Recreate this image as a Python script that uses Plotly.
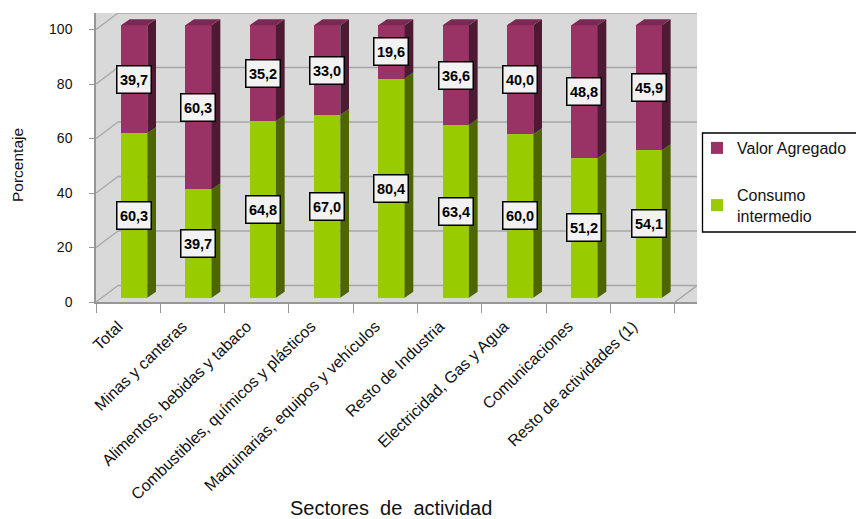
import plotly.graph_objects as go

categories = ["Total", "Minas y canteras", "Alimentos, bebidas y tabaco",
              "Combustibles, químicos y plásticos", "Maquinarias, equipos y vehículos",
              "Resto de Industria", "Electricidad, Gas y Agua", "Comunicaciones",
              "Resto de actividades (1)"]
consumo = [60.3, 39.7, 64.8, 67.0, 80.4, 63.4, 60.0, 51.2, 54.1]
valor = [39.7, 60.3, 35.2, 33.0, 19.6, 36.6, 40.0, 48.8, 45.9]
y_ticks = [0, 20, 40, 60, 80, 100]

W, H = 856, 519
L, R, T, B = 96, 159, 13, 217
X_UNIT = 64.33
Y_UNIT = 2.725
XMIN = -0.5
XMAX = XMIN + (W - L - R) / X_UNIT
YMAX = (H - T - B) / Y_UNIT

BAR_SHIFT = 0.093
BAR_W = 0.409
BAR_BASE = 1.6
DX, DY = 8.7 / X_UNIT, 6.0 / Y_UNIT
WALL_DX, WALL_DY = 22 / X_UNIT, 16.4 / Y_UNIT
LABEL_SHIFT = -10 / X_UNIT

GREEN, GREEN_SIDE = "#99cc00", "#4d6600"
PURPLE, PURPLE_SIDE, PURPLE_TOP = "#993366", "#4d1a33", "#7a2952"
GRID = "#a6a6a6"
AXIS = "#969696"
FONT = "Liberation Sans"
TEXT = "#111111"

xpos = [i + BAR_SHIFT for i in range(len(categories))]
low = [BAR_BASE] * len(consumo)
mid = [BAR_BASE + c for c in consumo]
top = [m + v for m, v in zip(mid, valor)]


def px_x(px):
    return (px - L) / (W - L - R)


def px_y(px):
    return (H - B - px) / (H - T - B)


def side_face(starts, ends):
    xs, ys = [], []
    for x, a, b in zip(xpos, starts, ends):
        r = x + BAR_W / 2
        xs += [r, r + DX, r + DX, r, r, None]
        ys += [a, a + DY, b + DY, b, a, None]
    return xs, ys


def top_face(levels):
    xs, ys = [], []
    for x, t in zip(xpos, levels):
        l, r = x - BAR_W / 2, x + BAR_W / 2
        xs += [l, r, r + DX, l + DX, l, None]
        ys += [t, t, t + DY, t + DY, t, None]
    return xs, ys


fig = go.Figure()

fig.add_trace(go.Bar(x=xpos, y=valor, base=mid, width=BAR_W, name="Valor Agregado",
                     marker=dict(color=PURPLE, line_width=0), legendgroup="v"))
fig.add_trace(go.Bar(x=xpos, y=consumo, base=low, width=BAR_W, name="Consumo<br>intermedio",
                     marker=dict(color=GREEN, line_width=0), legendgroup="c"))

for (xs, ys), color in [(side_face(low, mid), GREEN_SIDE),
                        (side_face(mid, top), PURPLE_SIDE),
                        (top_face(top), PURPLE_TOP)]:
    fig.add_trace(go.Scatter(x=xs, y=ys, mode="lines", fill="toself", fillcolor=color,
                             line=dict(width=0, color=color), showlegend=False,
                             hoverinfo="skip"))

fig.add_trace(go.Scatter(x=list(range(len(categories))), y=[None] * len(categories),
                         xaxis="x2", mode="markers", showlegend=False, hoverinfo="skip"))

shapes = []
for v in y_ticks:
    shapes.append(dict(type="line", xref="x", yref="y", layer="below",
                       x0=XMIN, y0=v, x1=XMIN + WALL_DX, y1=v + WALL_DY,
                       line=dict(color=GRID, width=1.3)))
    shapes.append(dict(type="line", xref="x", yref="y", layer="below",
                       x0=XMIN + WALL_DX, y0=v + WALL_DY, x1=XMAX, y1=v + WALL_DY,
                       line=dict(color=GRID, width=1.5)))
right_front = XMIN + len(categories)
shapes.append(dict(type="line", xref="x", yref="y", layer="below",
                   x0=right_front, y0=0, x1=XMAX, y1=WALL_DY,
                   line=dict(color=GRID, width=1.3)))
shapes.append(dict(type="rect", xref="paper", yref="paper", layer="above",
                   x0=px_x(702.5), x1=px_x(857), y0=px_y(232), y1=px_y(133),
                   line=dict(color="#000000", width=1.3)))

annotations = []


def label(x, y, v):
    annotations.append(dict(x=x, y=y, xref="x", yref="y",
                            text="<b>" + f"{v:.1f}".replace(".", ",") + "</b>",
                            showarrow=False, width=33, height=26, align="center", valign="middle",
                            bgcolor="#f2f2f2", bordercolor="#000000", borderwidth=1.5, borderpad=0,
                            font=dict(family=FONT, size=14.5, color="#000000")))


for x, lo, m, c, v in zip(xpos, low, mid, consumo, valor):
    label(x, lo + c / 2, c)
    label(x, m + v / 2, v)

annotations.append(dict(x=px_x(391), y=px_y(508), xref="paper", yref="paper",
                        xanchor="center", yanchor="middle",
                        text="Sectores\u00a0 de\u00a0 actividad", showarrow=False,
                        font=dict(family=FONT, size=20, color=TEXT)))
annotations.append(dict(x=px_x(17.5), y=px_y(165.5), xref="paper", yref="paper",
                        xanchor="center", yanchor="middle", textangle=-90,
                        text="Porcentaje", showarrow=False,
                        font=dict(family=FONT, size=15.5, color=TEXT)))

fig.update_layout(
    width=W, height=H, margin=dict(l=L, r=R, t=T, b=B, pad=0, autoexpand=False),
    paper_bgcolor="#ffffff", plot_bgcolor="#d9d9d9",
    barmode="overlay", showlegend=True, bargap=0,
    font=dict(family=FONT, size=14, color=TEXT),
    shapes=shapes, annotations=annotations,
    legend=dict(x=px_x(697), y=px_y(131), xanchor="left", yanchor="top",
                bgcolor="rgba(0,0,0,0)", borderwidth=0,
                font=dict(family=FONT, size=16, color=TEXT),
                tracegroupgap=23, traceorder="grouped", itemclick=False),
    xaxis=dict(range=[XMIN, XMAX], showgrid=False, zeroline=False, showline=True,
               linecolor=AXIS, linewidth=1.5, ticks="outside", ticklen=9,
               tickcolor=AXIS, tickwidth=1.3,
               tickvals=[XMIN + i for i in range(len(categories) + 1)],
               showticklabels=False),
    xaxis2=dict(range=[XMIN, XMAX], overlaying="x", side="bottom", anchor="y",
                showgrid=False, zeroline=False, showline=False,
                tickvals=[i + LABEL_SHIFT for i in range(len(categories))], ticktext=categories,
                tickangle=-44, ticks="", ticklabelstandoff=11,
                tickfont=dict(family=FONT, size=16, color=TEXT)),
    yaxis=dict(range=[0, YMAX], showgrid=False, zeroline=False, showline=True,
               linecolor=AXIS, linewidth=1.5, ticks="outside", ticklen=5,
               tickcolor=AXIS, tickwidth=1.3, tickvals=y_ticks,
               ticklabelstandoff=14,
               tickfont=dict(family=FONT, size=14, color=TEXT)),
)

fig.write_html("out.html", config={"displayModeBar": False},
               post_script="document.body.style.margin='0';")
